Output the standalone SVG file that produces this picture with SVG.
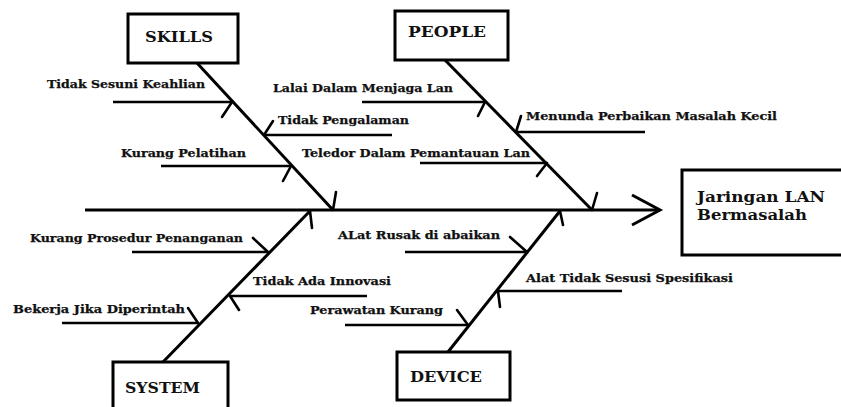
<svg xmlns="http://www.w3.org/2000/svg" width="841" height="407" viewBox="0 0 841 407">
  <style>
    .box { fill: #fff; stroke: #000; stroke-width: 3; }
    .cat { font-family: "DejaVu Serif", "Liberation Serif", serif; font-weight: bold; font-size: 14px; fill: #111; }
    .cause { font-family: "DejaVu Serif", "Liberation Serif", serif; font-weight: bold; font-size: 11px; fill: #111; stroke: #111; stroke-width: 0.25; }
    .effect { font-family: "DejaVu Serif", "Liberation Serif", serif; font-weight: bold; font-size: 15px; fill: #111; }
    .bone { fill: none; stroke: #000; stroke-width: 3; stroke-linecap: butt; }
    .rib { fill: none; stroke: #000; stroke-width: 2.6; }
    .tick { fill: none; stroke: #000; stroke-width: 2.6; stroke-linecap: round; }
  </style>
  <rect width="841" height="407" fill="#fff"/>

  <!-- spines, ribs and arrowheads -->
  <g id="connectors">
    <!-- main backbone with open arrowhead -->
    <line class="bone" x1="85" y1="210" x2="660" y2="210"/>
    <polyline class="bone" points="632,195 660,210 632,225"/>

    <!-- category bones -->
    <line class="bone" x1="197" y1="63" x2="333" y2="210"/>
    <line class="tick" x1="333" y1="210" x2="336" y2="192"/>
    <line class="bone" x1="445" y1="60" x2="592" y2="210"/>
    <line class="tick" x1="592" y1="210" x2="597" y2="193"/>
    <line class="bone" x1="163" y1="362" x2="310" y2="211"/>
    <line class="tick" x1="310" y1="211" x2="312" y2="228"/>
    <line class="bone" x1="448" y1="352" x2="560" y2="211"/>
    <line class="tick" x1="560" y1="211" x2="563" y2="225"/>

    <!-- SKILLS ribs -->
    <line class="rib" x1="113" y1="102" x2="232" y2="102"/>
    <line class="tick" x1="232" y1="102" x2="222" y2="117"/>
    <line class="rib" x1="264" y1="135" x2="392" y2="135"/>
    <line class="tick" x1="264" y1="135" x2="273" y2="121"/>
    <line class="rib" x1="161" y1="166" x2="291" y2="166"/>
    <line class="tick" x1="291" y1="166" x2="283" y2="181"/>

    <!-- PEOPLE ribs -->
    <line class="rib" x1="362" y1="102" x2="485" y2="102"/>
    <line class="tick" x1="485" y1="102" x2="478" y2="116"/>
    <line class="rib" x1="516" y1="132" x2="645" y2="132"/>
    <line class="tick" x1="516" y1="132" x2="521" y2="116"/>
    <line class="rib" x1="420" y1="163" x2="547" y2="163"/>
    <line class="tick" x1="547" y1="163" x2="537" y2="176"/>

    <!-- SYSTEM ribs -->
    <line class="rib" x1="132" y1="252" x2="268" y2="252"/>
    <line class="tick" x1="268" y1="252" x2="253" y2="238"/>
    <line class="rib" x1="230" y1="296" x2="367" y2="296"/>
    <line class="tick" x1="230" y1="296" x2="239" y2="310"/>
    <line class="rib" x1="62" y1="323" x2="198" y2="323"/>
    <line class="tick" x1="198" y1="323" x2="188" y2="308"/>

    <!-- DEVICE ribs -->
    <line class="rib" x1="405" y1="252" x2="527" y2="252"/>
    <line class="tick" x1="527" y1="252" x2="510" y2="237"/>
    <line class="rib" x1="498" y1="291" x2="622" y2="291"/>
    <line class="tick" x1="498" y1="291" x2="500" y2="307"/>
    <line class="rib" x1="345" y1="325" x2="468" y2="325"/>
    <line class="tick" x1="468" y1="325" x2="457" y2="310"/>
  </g>

  <!-- category boxes -->
  <g id="skills">
    <rect class="box" x="128" y="14" width="110" height="49"/>
    <text class="cat" x="145" y="42" textLength="68" lengthAdjust="spacingAndGlyphs">SKILLS</text>
  </g>
  <g id="people">
    <rect class="box" x="395" y="11" width="113" height="49"/>
    <text class="cat" x="408" y="37" textLength="78" lengthAdjust="spacingAndGlyphs">PEOPLE</text>
  </g>
  <g id="system">
    <rect class="box" x="113" y="362" width="115" height="50"/>
    <text class="cat" x="125" y="393" textLength="75" lengthAdjust="spacingAndGlyphs">SYSTEM</text>
  </g>
  <g id="device">
    <rect class="box" x="397" y="352" width="113" height="48"/>
    <text class="cat" x="410" y="382" textLength="72" lengthAdjust="spacingAndGlyphs">DEVICE</text>
  </g>

  <!-- effect -->
  <g id="effect">
    <rect class="box" x="682" y="170" width="165" height="85"/>
    <text class="effect" x="697" y="202" textLength="128" lengthAdjust="spacingAndGlyphs">Jaringan LAN</text>
    <text class="effect" x="697" y="220" textLength="110" lengthAdjust="spacingAndGlyphs">Bermasalah</text>
  </g>

  <!-- causes -->
  <g id="cause-skills-1"><text class="cause" x="47" y="88" textLength="158" lengthAdjust="spacingAndGlyphs">Tidak Sesuni Keahlian</text></g>
  <g id="cause-skills-2"><text class="cause" x="278" y="124" textLength="131" lengthAdjust="spacingAndGlyphs">Tidak Pengalaman</text></g>
  <g id="cause-skills-3"><text class="cause" x="121" y="157" textLength="125" lengthAdjust="spacingAndGlyphs">Kurang Pelatihan</text></g>

  <g id="cause-people-1"><text class="cause" x="273" y="92" textLength="180" lengthAdjust="spacingAndGlyphs">Lalai Dalam Menjaga Lan</text></g>
  <g id="cause-people-2"><text class="cause" x="526" y="120" textLength="251" lengthAdjust="spacingAndGlyphs">Menunda Perbaikan Masalah Kecil</text></g>
  <g id="cause-people-3"><text class="cause" x="302" y="157" textLength="228" lengthAdjust="spacingAndGlyphs">Teledor Dalam Pemantauan Lan</text></g>

  <g id="cause-system-1"><text class="cause" x="30" y="242" textLength="213" lengthAdjust="spacingAndGlyphs">Kurang Prosedur Penanganan</text></g>
  <g id="cause-system-2"><text class="cause" x="253" y="285" textLength="138" lengthAdjust="spacingAndGlyphs">Tidak Ada Innovasi</text></g>
  <g id="cause-system-3"><text class="cause" x="13" y="313" textLength="172" lengthAdjust="spacingAndGlyphs">Bekerja Jika Diperintah</text></g>

  <g id="cause-device-1"><text class="cause" x="338" y="239" textLength="162" lengthAdjust="spacingAndGlyphs">ALat Rusak di abaikan</text></g>
  <g id="cause-device-2"><text class="cause" x="526" y="282" textLength="207" lengthAdjust="spacingAndGlyphs">Alat Tidak Sesusi Spesifikasi</text></g>
  <g id="cause-device-3"><text class="cause" x="310" y="314" textLength="133" lengthAdjust="spacingAndGlyphs">Perawatan Kurang</text></g>
</svg>
